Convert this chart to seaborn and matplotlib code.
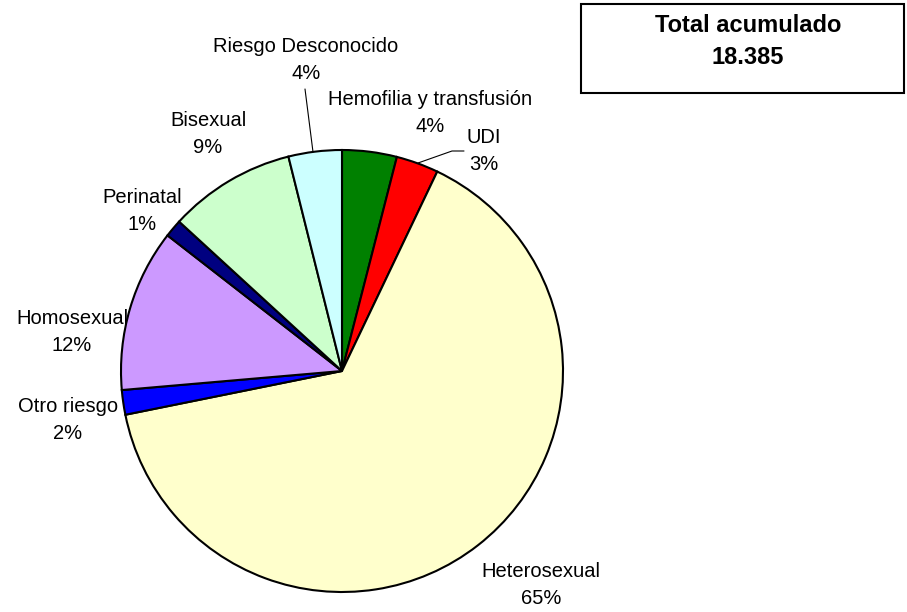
import matplotlib
matplotlib.use("Agg")
import matplotlib.pyplot as plt
from matplotlib.patches import Rectangle
import seaborn as sns

# ---------------------------------------------------------------------------
# Data (share of cases by transmission category, clockwise from 12 o'clock)
# ---------------------------------------------------------------------------
categories = ["Hemofilia y transfusión", "UDI", "Heterosexual", "Otro riesgo",
              "Homosexual", "Perinatal", "Bisexual", "Riesgo Desconocido"]
shares = [4.0, 3.1, 64.8, 1.8, 11.9, 1.3, 9.3, 3.9]
total_label = "18.385"

colors = ["#008000", "#FF0000", "#FFFFCC", "#0000FF",
          "#CC99FF", "#000080", "#CCFFCC", "#CCFFFF"]

# label anchor points in image pixels (x, y from top)
label_pos = [(430, 113), (484, 151), (541, 585), (68, 420),
             (72, 332), (142, 211), (208, 134), (306, 60)]

W, H = 907, 612
CENTER = (342, 371)
RADIUS = 221
LINE_GAP = 13.5

sns.set_theme(style="white")
plt.rcParams["font.family"] = ["Liberation Sans", "DejaVu Sans"]
plt.rcParams["text.color"] = "black"


def px(x, y):
    """image pixel coords (y down) -> axes data coords (y up)"""
    return x, H - y


fig = plt.figure(figsize=(W / 100, H / 100), dpi=100)
ax = fig.add_axes([0, 0, 1, 1])

ax.pie(shares, colors=colors, startangle=90, counterclock=False,
       center=px(*CENTER), radius=RADIUS,
       wedgeprops={"edgecolor": "black", "linewidth": 1.5})
ax.set_xlim(0, W)
ax.set_ylim(0, H)
ax.set_aspect("equal")
ax.axis("off")

total = sum(shares)
for name, val, (lx, ly) in zip(categories, shares, label_pos):
    ax.text(*px(lx, ly - LINE_GAP), name, ha="center", va="center",
            fontsize=14.5)
    ax.text(*px(lx, ly + LINE_GAP), f"{round(val / total * 100)}%",
            ha="center", va="center", fontsize=14.5)

# leader lines
ax.plot(*zip(px(305, 89), px(313, 152)), color="black", lw=0.8)
ax.plot(*zip(px(464, 151), px(452, 151), px(418, 163)), color="black", lw=0.8)

# total box
ax.add_patch(Rectangle(px(581, 93), 323, 89, fill=False,
                       edgecolor="black", linewidth=1.5))
ax.text(*px(748, 25), "Total acumulado", ha="center", va="center",
        fontsize=17, fontweight="bold")
ax.text(*px(748, 58), total_label, ha="center", va="center",
        fontsize=17, fontweight="bold")

fig.savefig("out.png", dpi=100)
